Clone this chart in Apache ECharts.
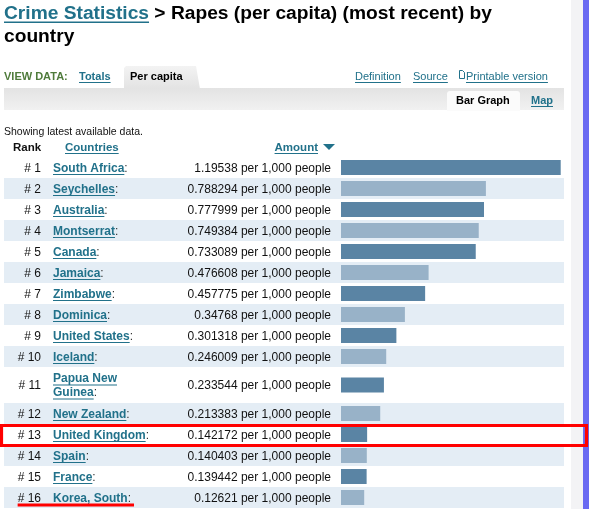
<!DOCTYPE html>
<html><head><meta charset="utf-8">
<script src="https://cdn.jsdelivr.net/npm/echarts@6/dist/echarts.min.js"></script>
<style>html,body{margin:0;padding:0;background:#fff}#c{width:589px;height:509px}</style>
</head><body><div id="c"></div>
<script>
// ---- data ----
const countries = ["South Africa","Seychelles","Australia","Montserrat","Canada","Jamaica","Zimbabwe","Dominica","United States","Iceland","Papua New Guinea","New Zealand","United Kingdom","Spain","France","Korea, South"];
const values = [1.19538,0.788294,0.777999,0.749384,0.733089,0.476608,0.457775,0.34768,0.301318,0.246009,0.233544,0.213383,0.142172,0.140403,0.139442,0.12621];
const unitLabel = " per 1,000 people";
const highlighted = "United Kingdom";
const underlined = "Korea, South";
const titleLink = "Crime Statistics";
const titleRest = " > Rapes (per capita) (most recent) by";
const titleLine2 = "country";
const headers = ["Rank", "Countries", "Amount"];
const subtitle = "Showing latest available data.";

// ---- styles ----
const FF = '"Liberation Sans", Arial, Helvetica, sans-serif';
const REG12 = '12px ' + FF, BOLD12 = 'bold 12px ' + FF;
const LINK = '#21718a', STRIPE = '#e4edf5', DARK = '#5a84a4', LIGHT = '#98b2c8';
const ROWH = 21, LINEH = 15, COLW = 100;

const ctx = document.createElement('canvas').getContext('2d');
function tw(t, f) { ctx.font = f; return ctx.measureText(t).width; }
function wrap(name) {
  const words = name.split(' '); const lines = []; let cur = '';
  for (const w of words) {
    const t = cur ? cur + ' ' + w : w;
    if (cur && tw(t + ':', BOLD12) > COLW) { lines.push(cur); cur = w; } else cur = t;
  }
  lines.push(cur); return lines;
}
let acc = 0;
const rows = countries.map(n => { const lines = wrap(n); const h = ROWH + (lines.length - 1) * LINEH; const r = { lines, start: acc, h }; acc += h; return r; });
const totalH = acc;
const XMAX = 1.2, PXU = 183.8;

function rowGeom(api, i) {
  const r = rows[i];
  const top = api.coord([0, r.start])[1], bot = api.coord([0, r.start + r.h])[1];
  return { r, top, bot, cy: (top + bot) / 2 };
}

function renderRow(params, api) {
  const i = api.value(2), v = api.value(0);
  const { r, top, bot, cy } = rowGeom(api, i);
  const x0 = api.coord([0, 0])[0], x1 = api.coord([v, 0])[0];
  const ch = [];
  if (i % 2 === 1) ch.push({ type: 'rect', shape: { x: 4, y: top, width: 560, height: bot - top }, style: { fill: STRIPE } });
  ch.push({ type: 'rect', shape: { x: x0, y: cy - 7.5, width: x1 - x0, height: 15 }, style: { fill: i % 2 ? LIGHT : DARK } });
  ch.push({ type: 'text', style: { text: '# ' + (i + 1), x: 41, y: cy + 1, align: 'right', verticalAlign: 'middle', font: REG12, fill: '#111' } });
  const n = r.lines.length;
  r.lines.forEach((ln, k) => {
    const ly = cy + (k - (n - 1) / 2) * 14;
    const w = tw(ln, BOLD12);
    ch.push({ type: 'text', style: { text: ln, x: 53, y: ly + 1, align: 'left', verticalAlign: 'middle', font: BOLD12, fill: LINK } });
    ch.push({ type: 'rect', shape: { x: 53, y: ly + 6.5, width: w, height: 1 }, style: { fill: LINK } });
    if (k === n - 1) ch.push({ type: 'text', style: { text: ':', x: 53 + w, y: ly + 1, align: 'left', verticalAlign: 'middle', font: REG12, fill: '#333' } });
  });
  ch.push({ type: 'text', style: { text: String(values[i]) + unitLabel, x: 331, y: cy + 1, align: 'right', verticalAlign: 'middle', font: REG12, fill: '#111' } });
  return { type: 'group', children: ch };
}

function renderMarks(params, api) {
  const i = api.value(2);
  const { top, bot, cy } = rowGeom(api, i);
  const ch = [];
  if (countries[i] === highlighted) {
    ch.push({ type: 'rect', shape: { x: 1.5, y: top + 1.5, width: 585, height: bot - top - 1 }, style: { fill: 'none', stroke: '#ff0000', lineWidth: 3.2 } });
  }
  if (countries[i] === underlined) {
    const xs = 41 - tw('# ' + (i + 1), REG12);
    const xe = 53 + tw(countries[i], BOLD12) + tw(':', REG12) + 3;
    ch.push({ type: 'rect', shape: { x: xs, y: cy + 6, width: xe - xs, height: 3 }, style: { fill: '#ff0000' } });
  }
  return { type: 'group', children: ch };
}

const data = values.map((v, i) => [v, rows[i].start + rows[i].h / 2, i]);

function ul(x, y, w, color, h) { return { type: 'rect', shape: { x, y, width: w, height: h || 1 }, style: { fill: color } }; }
function txt(t, x, y, font, fill, align) { return { type: 'text', style: { text: t, x, y, font, fill, align: align || 'left', verticalAlign: 'middle' } }; }

const T19 = 'bold 19.2px ' + FF, B11 = 'bold 11px ' + FF, R11 = '11px ' + FF, H11 = 'bold 11.5px ' + FF;
const linkW = tw(titleLink, T19);
const graphics = [
  { type: 'rect', shape: { x: 571, y: 0, width: 12, height: 509 }, style: { fill: '#f3f3f5' } },
  { type: 'rect', shape: { x: 583, y: 0, width: 6, height: 509 }, style: { fill: '#6a6af2' } },
  txt(titleLink, 4, 14, T19, LINK),
  ul(4, 21.5, linkW, LINK, 1.5),
  txt(titleRest, 4 + linkW, 14, T19, '#000'),
  txt(titleLine2, 4, 37, T19, '#000'),
  // band + tabs
  { type: 'rect', shape: { x: 4, y: 88, width: 560, height: 22 }, style: { fill: new echarts.graphic.LinearGradient(0, 0, 0, 1, [{ offset: 0, color: '#e3e3e3' }, { offset: 1, color: '#f1f1f1' }]) } },
  { type: 'polygon', shape: { points: [[124, 89], [124, 68], [126, 66], [196, 66], [200, 89]] }, style: { fill: new echarts.graphic.LinearGradient(0, 0, 0, 1, [{ offset: 0, color: '#f3f3f3' }, { offset: 1, color: '#e3e3e3' }]) } },
  { type: 'rect', shape: { x: 447, y: 91, width: 73, height: 20, r: [3, 3, 0, 0] }, style: { fill: '#fbfbfb' } },
  txt('VIEW DATA:', 4, 77, B11, '#4f7b3b'),
  txt('Totals', 79, 77, B11, LINK), ul(79, 82, tw('Totals', B11), LINK),
  txt('Per capita', 130, 77, B11, '#000'),
  txt('Definition', 355, 77, R11, LINK), ul(355, 82, tw('Definition', R11), LINK),
  txt('Source', 413, 77, R11, LINK), ul(413, 82, tw('Source', R11), LINK),
  { type: 'polygon', shape: { points: [[459.5, 70.5], [462.5, 70.5], [464.5, 72.5], [464.5, 78.5], [459.5, 78.5]] }, style: { fill: 'none', stroke: LINK, lineWidth: 1 } },
  txt('Printable version', 466, 77, R11, LINK), ul(466, 82, tw('Printable version', R11), LINK),
  txt('Bar Graph', 456, 101, B11, '#000'),
  txt('Map', 531, 101, B11, LINK), ul(531, 106, tw('Map', B11), LINK),
  // subtitle + headers
  txt(subtitle, 4, 132, '10.5px ' + FF, '#111'),
  txt(headers[0], 13, 148, H11, '#111'),
  txt(headers[1], 65, 148, H11, LINK), ul(65, 153, tw(headers[1], H11), LINK),
  txt(headers[2], 318, 148, H11, LINK, 'right'), ul(318 - tw(headers[2], H11), 153, tw(headers[2], H11), LINK),
  { type: 'polygon', shape: { points: [[323, 144], [335, 144], [329, 150]] }, style: { fill: LINK } }
];

const chart = echarts.init(document.getElementById('c'), null, { renderer: 'canvas' });
chart.setOption({
  animation: false,
  backgroundColor: '#fff',
  grid: { left: 341, top: 157, width: XMAX * PXU, height: totalH },
  xAxis: { type: 'value', min: 0, max: XMAX, show: false },
  yAxis: { type: 'value', min: 0, max: totalH, inverse: true, show: false },
  graphic: { elements: graphics.map(g => Object.assign({ z: -1 }, g)) },
  series: [
    { type: 'custom', renderItem: renderRow, data, encode: { x: 0, y: 1 }, clip: false, z: 2 },
    { type: 'custom', renderItem: renderMarks, data, encode: { x: 0, y: 1 }, clip: false, z: 5 }
  ]
});
</script></body></html>
